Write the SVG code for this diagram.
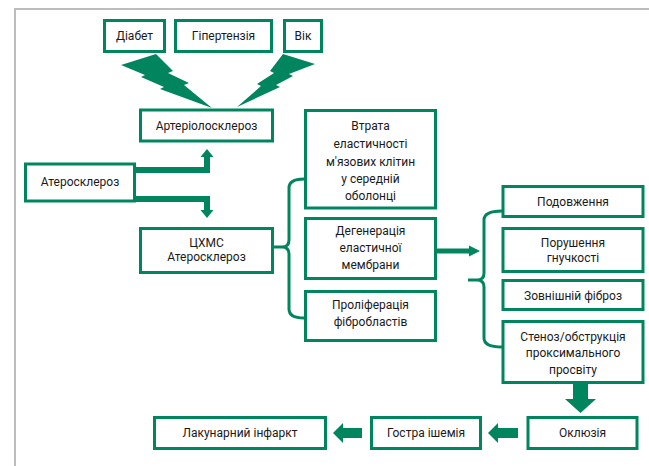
<svg xmlns="http://www.w3.org/2000/svg" width="649" height="466" viewBox="0 0 649 466">
<style>
.box{fill:#fff;stroke:#00855f;stroke-width:3}
.t{font-family:Roboto,"Liberation Sans",sans-serif;font-size:12px;fill:#1a1a1a;text-anchor:middle}
.g{fill:#00855f}
.ln{fill:none;stroke:#00855f}
</style>
<rect x="0" y="0" width="649" height="466" fill="#fff"/>
<path d="M15,466 V9 H649" fill="none" stroke="#bdbdbd" stroke-width="2"/>
<g id="connectors">
<polygon class="g" points="121,65 156,54 173,71 168,73 189,83 184,85 212,108 160,89 164,87 141,77 145,75"/>
<polygon class="g" points="315,64 283,54 270,71 274,73 257,84 261,86 237,107 280,87 276,85 293,76 289,74"/>
<path class="ln" stroke-width="6" d="M136,170 H207 V156"/>
<polygon class="g" points="200.5,157 207,149 213.5,157"/>
<path class="ln" stroke-width="6" d="M136,199 H207 V211"/>
<polygon class="g" points="200.5,210 207,218 213.5,210"/>
<path class="ln" stroke-width="3" d="M273,247 H283 M304,179 Q289,179 289,188 V240 Q289,247 282,247 Q289,247 289,254 V309 Q289,318 304,318"/>
<path class="ln" stroke-width="5" d="M437,251 H471"/>
<polygon class="g" points="469,245.5 480,251 469,256.5"/>
<path class="ln" stroke-width="3" d="M468,280 H478 M502,211 Q484,211 484,220 V273 Q484,280 477,280 Q484,280 484,287 V338 Q484,347 502,347"/>
<rect class="g" x="573" y="384" width="15" height="16"/>
<polygon class="g" points="565,399 596,399 580.5,413"/>
<rect class="g" x="497" y="428" width="21" height="10"/>
<polygon class="g" points="498,423 488,433 498,443"/>
<rect class="g" x="342" y="428" width="20" height="10"/>
<polygon class="g" points="343,423 333,433 343,443"/>
</g>
<g id="diabet"><rect class="box" x="104.5" y="20.5" width="60" height="31"/><text class="t" x="134.5" y="40">Діабет</text></g>
<g id="hypertension"><rect class="box" x="175.5" y="20.5" width="96" height="31"/><text class="t" x="223.5" y="40">Гіпертензія</text></g>
<g id="age"><rect class="box" x="284.5" y="20.5" width="37" height="31"/><text class="t" x="303" y="40">Вік</text></g>
<g id="arteriolosclerosis"><rect class="box" x="140.5" y="110" width="132" height="31"/><text class="t" x="206.5" y="130">Артеріолосклероз</text></g>
<g id="atherosclerosis"><rect class="box" x="25.5" y="164" width="109" height="37"/><text class="t" x="80" y="186">Атеросклероз</text></g>
<g id="cerebral-atherosclerosis"><rect class="box" x="140.5" y="228.5" width="132" height="44"/><text class="t" x="206.5" y="247">ЦХМС</text><text class="t" x="206.5" y="261">Атеросклероз</text></g>
<g id="elasticity-loss"><rect class="box" x="305.5" y="110.5" width="130" height="97.5"/><text class="t" x="370.5" y="130">Втрата</text><text class="t" x="370.5" y="148">еластичності</text><text class="t" x="370.5" y="166">м'язових клітин</text><text class="t" x="370.5" y="183">у середній</text><text class="t" x="370.5" y="200">оболонці</text></g>
<g id="membrane-degeneration"><rect class="box" x="305.5" y="218.5" width="130" height="60"/><text class="t" x="370.5" y="235">Дегенерація</text><text class="t" x="370.5" y="252">еластичної</text><text class="t" x="370.5" y="269">мембрани</text></g>
<g id="fibroblast-proliferation"><rect class="box" x="305.5" y="291.5" width="130" height="49"/><text class="t" x="370.5" y="309">Проліферація</text><text class="t" x="370.5" y="326">фібробластів</text></g>
<g id="elongation"><rect class="box" x="503" y="186.5" width="140" height="30"/><text class="t" x="573" y="206">Подовження</text></g>
<g id="flexibility"><rect class="box" x="503" y="228.5" width="140" height="43"/><text class="t" x="573" y="247">Порушення</text><text class="t" x="573" y="262">гнучкості</text></g>
<g id="fibrosis"><rect class="box" x="503" y="280.5" width="140" height="29"/><text class="t" x="573" y="300">Зовнішній фіброз</text></g>
<g id="stenosis"><rect class="box" x="503" y="321.5" width="140" height="61"/><text class="t" x="573" y="341">Стеноз/обструкція</text><text class="t" x="573" y="357">проксимального</text><text class="t" x="573" y="374">просвіту</text></g>
<g id="occlusion"><rect class="box" x="528" y="417.5" width="109" height="31"/><text class="t" x="582.5" y="437">Оклюзія</text></g>
<g id="ischemia"><rect class="box" x="371.5" y="417.5" width="109" height="31"/><text class="t" x="426" y="437">Гостра ішемія</text></g>
<g id="lacunar-infarct"><rect class="box" x="154.5" y="417.5" width="171" height="31"/><text class="t" x="240" y="437">Лакунарний інфаркт</text></g>
</svg>
